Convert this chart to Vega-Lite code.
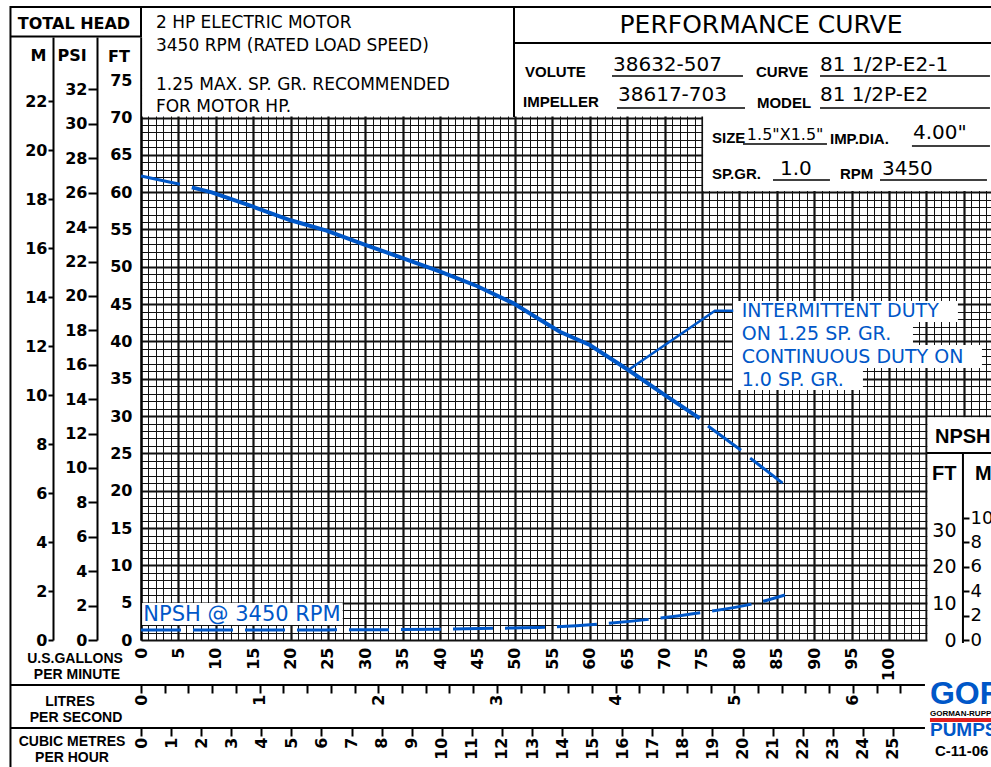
{
  "$schema": "https://vega.github.io/schema/vega-lite/v6.json",
  "width": 850,
  "height": 603,
  "autosize": {"type": "none"},
  "padding": {"left": 141, "top": 37, "right": 0, "bottom": 127},
  "background": "white",
  "config": {"view": {"stroke": null}, "axis": {"labelColor": "#000", "title": null}},
  "datasets": {
    "head": [
      {"gpm": 0, "ft": 62.16, "seg": "start"},
      {"gpm": 5.2, "ft": 61.05, "seg": "start"},
      {"gpm": 6.8, "ft": 60.65, "seg": "main"},
      {"gpm": 9.45, "ft": 59.98, "seg": "main"},
      {"gpm": 15.0, "ft": 58.05, "seg": "main"},
      {"gpm": 19.9, "ft": 56.27, "seg": "main"},
      {"gpm": 24.8, "ft": 54.84, "seg": "main"},
      {"gpm": 29.7, "ft": 53.05, "seg": "main"},
      {"gpm": 35.07, "ft": 51.14, "seg": "main"},
      {"gpm": 40.0, "ft": 49.35, "seg": "main"},
      {"gpm": 44.9, "ft": 47.43, "seg": "main"},
      {"gpm": 49.8, "ft": 45.1, "seg": "main"},
      {"gpm": 53.3, "ft": 42.95, "seg": "main"},
      {"gpm": 56.0, "ft": 41.3, "seg": "main"},
      {"gpm": 60.0, "ft": 39.52, "seg": "main"},
      {"gpm": 65.15, "ft": 36.17, "seg": "main"},
      {"gpm": 70.05, "ft": 32.82, "seg": "main"},
      {"gpm": 74.7, "ft": 29.7, "seg": "main"},
      {"gpm": 75.8, "ft": 28.67, "seg": "end"},
      {"gpm": 80.3, "ft": 25.36, "seg": "end"},
      {"gpm": 81.5, "ft": 24.34, "seg": "end"},
      {"gpm": 85.8, "ft": 20.99, "seg": "end"}
    ],
    "npsh": [
      {"gpm": 0, "npsh": 2.74},
      {"gpm": 10, "npsh": 2.74},
      {"gpm": 20, "npsh": 2.76},
      {"gpm": 30, "npsh": 2.8},
      {"gpm": 40, "npsh": 2.95},
      {"gpm": 47.6, "npsh": 3.21},
      {"gpm": 54.45, "npsh": 3.5},
      {"gpm": 61.4, "npsh": 4.38},
      {"gpm": 68.3, "npsh": 5.75},
      {"gpm": 75.2, "npsh": 7.59},
      {"gpm": 82.1, "npsh": 10.05},
      {"gpm": 86.1, "npsh": 12.33}
    ],
    "leader": [
      {"gpm": 65.15, "ft": 36.17},
      {"gpm": 76.74, "ft": 44.12},
      {"gpm": 79.18, "ft": 44.12}
    ],
    "covers": [
      {"gpm": 0.15, "gpm2": 114, "ft": 70.15, "ft2": 81},
      {"gpm": 75.15, "gpm2": 114, "ft": 60.15, "ft2": 81},
      {"gpm": 105.15, "gpm2": 114, "ft": -0.5, "ft2": 29.85},
      {"gpm": 79.14, "gpm2": 109.22, "ft": 42.6, "ft2": 45.42},
      {"gpm": 79.14, "gpm2": 103.21, "ft": 39.52, "ft2": 42.6},
      {"gpm": 79.14, "gpm2": 112.43, "ft": 36.44, "ft2": 39.52},
      {"gpm": 79.14, "gpm2": 96.52, "ft": 33.49, "ft2": 36.44},
      {"gpm": 0.15, "gpm2": 26.97, "ft": 2.01, "ft2": 4.96}
    ],
    "frame": [
      {"gpm": -17.51, "gpm2": 114, "ft": 84.81, "ft2": 84.81},
      {"gpm": -17.45, "gpm2": -17.45, "ft": 84.95, "ft2": -17.5},
      {"gpm": -17.45, "gpm2": 0, "ft": 80.86, "ft2": 80.86},
      {"gpm": 0, "gpm2": 0, "ft": 80.79, "ft2": 84.81},
      {"gpm": 49.87, "gpm2": 49.87, "ft": 70.07, "ft2": 84.81},
      {"gpm": 49.87, "gpm2": 114, "ft": 79.98, "ft2": 79.98},
      {"gpm": -17.45, "gpm2": 104.81, "ft": -6.03, "ft2": -6.03},
      {"gpm": -17.45, "gpm2": 104.81, "ft": -11.79, "ft2": -11.79},
      {"gpm": 105.08, "gpm2": 114, "ft": 25.05, "ft2": 25.05},
      {"gpm": 109.89, "gpm2": 109.89, "ft": -0.4, "ft2": 25.05}
    ],
    "underlines": [
      {"gpm": 62.97, "gpm2": 80.48, "ft": 75.56, "ft2": 75.56},
      {"gpm": 90.78, "gpm2": 113.5, "ft": 75.56, "ft2": 75.56},
      {"gpm": 63.64, "gpm2": 80.75, "ft": 71.28, "ft2": 71.28},
      {"gpm": 90.78, "gpm2": 113.5, "ft": 71.28, "ft2": 71.28},
      {"gpm": 80.48, "gpm2": 91.71, "ft": 66.45, "ft2": 66.45},
      {"gpm": 103.07, "gpm2": 113.5, "ft": 66.18, "ft2": 66.18},
      {"gpm": 84.49, "gpm2": 92.11, "ft": 61.63, "ft2": 61.63},
      {"gpm": 98.8, "gpm2": 113.1, "ft": 61.63, "ft2": 61.63}
    ],
    "thinHeader": [
      {"gpm": 2.0, "ft": 82.7, "text": "2 HP ELECTRIC MOTOR"},
      {"gpm": 2.0, "ft": 79.6, "text": "3450 RPM (RATED LOAD SPEED)"},
      {"gpm": 2.0, "ft": 74.36, "text": "1.25 MAX. SP. GR. RECOMMENDED"},
      {"gpm": 2.0, "ft": 71.41, "text": "FOR MOTOR HP."}
    ],
    "titleText": [
      {"gpm": 82.89, "ft": 82.4, "text": "PERFORMANCE CURVE"}
    ],
    "boldCenter": [
      {"gpm": -8.96, "ft": 82.53, "text": "TOTAL HEAD"},
      {"gpm": -13.7, "ft": 78.24, "text": "M"},
      {"gpm": -9.22, "ft": 78.24, "text": "PSI"},
      {"gpm": -2.94, "ft": 78.11, "text": "FT"}
    ],
    "boldLeft": [
      {"gpm": 51.34, "ft": 76.1, "text": "VOLUTE"},
      {"gpm": 82.22, "ft": 76.1, "text": "CURVE"},
      {"gpm": 51.07, "ft": 72.08, "text": "IMPELLER"},
      {"gpm": 82.35, "ft": 71.94, "text": "MODEL"},
      {"gpm": 76.34, "ft": 67.26, "text": "SIZE"},
      {"gpm": 92.11, "ft": 67.12, "text": "IMP.DIA."},
      {"gpm": 76.34, "ft": 62.43, "text": "SP.GR."},
      {"gpm": 93.45, "ft": 62.43, "text": "RPM"}
    ],
    "values20": [
      {"gpm": 63.1, "ft": 77.04, "text": "38632-507"},
      {"gpm": 90.78, "ft": 77.04, "text": "81 1/2P-E2-1"},
      {"gpm": 63.77, "ft": 73.02, "text": "38617-703"},
      {"gpm": 90.78, "ft": 73.02, "text": "81 1/2P-E2"},
      {"gpm": 103.21, "ft": 67.93, "text": "4.00\""},
      {"gpm": 85.43, "ft": 63.1, "text": "1.0"},
      {"gpm": 99.06, "ft": 63.1, "text": "3450"}
    ],
    "sizeText": [
      {"gpm": 81.0, "ft": 67.66, "text": "1.5\"X1.5\""}
    ],
    "bottomLabels": [
      {"gpm": -8.82, "ft": -2.48, "text": "U.S.GALLONS"},
      {"gpm": -8.56, "ft": -4.69, "text": "PER MINUTE"},
      {"gpm": -9.49, "ft": -8.31, "text": "LITRES"},
      {"gpm": -8.69, "ft": -10.45, "text": "PER SECOND"},
      {"gpm": -9.22, "ft": -13.6, "text": "CUBIC METRES"},
      {"gpm": -9.22, "ft": -15.81, "text": "PER HOUR"}
    ],
    "blueNotes": [
      {"gpm": 80.31, "ft": 44.08, "text": "INTERMITTENT DUTY"},
      {"gpm": 80.31, "ft": 41.0, "text": "ON 1.25 SP. GR."},
      {"gpm": 80.31, "ft": 37.92, "text": "CONTINUOUS DUTY ON"},
      {"gpm": 80.31, "ft": 34.83, "text": "1.0 SP. GR."}
    ],
    "npshLabel": [
      {"gpm": 0.31, "ft": 3.35, "text": "NPSH @ 3450 RPM"}
    ],
    "npshBox": [
      {"gpm": 106.15, "ft": 27.2, "text": "NPSH"},
      {"gpm": 105.75, "ft": 22.24, "text": "FT"},
      {"gpm": 111.5, "ft": 22.24, "text": "M"}
    ],
    "logoBig": [{"gpm": 105.48, "ft": -7.2, "text": "GOR"}],
    "logoSmall": [{"gpm": 105.48, "ft": -9.95, "text": "GORMAN-RUPP"}],
    "logoBar": [{"gpm": 105.48, "gpm2": 114.2, "ft": -10.45, "ft2": -10.99}],
    "logoPumps": [{"gpm": 105.48, "ft": -12.06, "text": "PUMPS"}],
    "code": [{"gpm": 106.15, "ft": -14.87, "text": "C-11-06"}]
  },
  "layer": [
    {
      "encoding": {
        "x": {
          "field": "gpm", "type": "quantitative",
          "scale": {"domain": [0, 113.64], "nice": false, "zero": false},
          "axis": {
            "orient": "bottom", "title": null,
            "values": [0,1,2,3,4,5,6,7,8,9,10,11,12,13,14,15,16,17,18,19,20,21,22,23,24,25,26,27,28,29,30,31,32,33,34,35,36,37,38,39,40,41,42,43,44,45,46,47,48,49,50,51,52,53,54,55,56,57,58,59,60,61,62,63,64,65,66,67,68,69,70,71,72,73,74,75,76,77,78,79,80,81,82,83,84,85,86,87,88,89,90,91,92,93,94,95,96,97,98,99,100,101,102,103,104,105,106,107,108,109,110,111,112,113],
            "grid": true, "gridColor": "#111", "gridOpacity": 1,
            "gridWidth": {"condition": {"test": "datum.value % 5 === 0", "value": 2.2}, "value": 1},
            "domain": false, "ticks": false, "tickSize": 0,
            "labelAngle": 270, "labelAlign": "right", "labelBaseline": "middle", "labelPadding": 7,
            "labelFont": "DejaVu Sans", "labelFontWeight": "bold", "labelFontSize": 16,
            "labelExpr": "datum.value % 5 === 0 && datum.value <= 100 ? datum.label : ''",
            "labelOverlap": false, "labelBound": false, "labelFlush": false
          }
        },
        "y": {
          "field": "ft", "type": "quantitative",
          "scale": {"domain": [0, 80.79], "nice": false, "zero": false},
          "axis": {
            "orient": "left", "title": null,
            "values": [0,1,2,3,4,5,6,7,8,9,10,11,12,13,14,15,16,17,18,19,20,21,22,23,24,25,26,27,28,29,30,31,32,33,34,35,36,37,38,39,40,41,42,43,44,45,46,47,48,49,50,51,52,53,54,55,56,57,58,59,60,61,62,63,64,65,66,67,68,69,70,71,72,73,74,75],
            "grid": true, "gridColor": "#111", "gridOpacity": 1,
            "gridWidth": {"condition": {"test": "datum.value % 5 === 0", "value": 2.2}, "value": 1},
            "domain": true, "domainColor": "#000", "domainWidth": 2,
            "ticks": false, "tickSize": 0, "labelPadding": 9,
            "labelFont": "DejaVu Sans", "labelFontWeight": "bold", "labelFontSize": 16,
            "labelExpr": "datum.value % 5 === 0 ? datum.label : ''",
            "labelOverlap": false, "labelBound": false, "labelFlush": false
          }
        }
      },
      "layer": [
        {
          "data": {"name": "covers"},
          "mark": {"type": "rect", "color": "white", "opacity": 1},
          "encoding": {"x2": {"field": "gpm2"}, "y2": {"field": "ft2"}}
        },
        {
          "data": {"name": "frame"},
          "mark": {"type": "rule", "color": "#000", "strokeWidth": 2},
          "encoding": {"x2": {"field": "gpm2"}, "y2": {"field": "ft2"}}
        },
        {
          "data": {"name": "underlines"},
          "mark": {"type": "rule", "color": "#000", "strokeWidth": 1.5},
          "encoding": {"x2": {"field": "gpm2"}, "y2": {"field": "ft2"}}
        },
        {
          "data": {"name": "logoBar"},
          "mark": {"type": "rect", "color": "#e02020"},
          "encoding": {"x2": {"field": "gpm2"}, "y2": {"field": "ft2"}}
        },
        {
          "data": {"name": "head"},
          "transform": [{"filter": "datum.seg === 'start'"}],
          "mark": {"type": "line", "color": "#0057c8", "strokeWidth": 3}
        },
        {
          "data": {"name": "head"},
          "transform": [{"filter": "datum.seg === 'main'"}],
          "mark": {"type": "line", "color": "#0057c8", "strokeWidth": 4}
        },
        {
          "data": {"name": "head"},
          "transform": [{"filter": "datum.seg === 'end'"}],
          "mark": {"type": "line", "color": "#0057c8", "strokeWidth": 3, "strokeDash": [41, 12]}
        },
        {
          "data": {"name": "leader"},
          "mark": {"type": "line", "color": "#0057c8", "strokeWidth": 2.5}
        },
        {
          "data": {"name": "thinHeader"},
          "mark": {"type": "text", "font": "DejaVu Sans", "fontSize": 17, "align": "left", "baseline": "middle", "color": "#000"},
          "encoding": {"text": {"field": "text"}}
        },
        {
          "data": {"name": "titleText"},
          "mark": {"type": "text", "font": "DejaVu Sans", "fontSize": 25, "align": "center", "baseline": "middle", "color": "#000"},
          "encoding": {"text": {"field": "text"}}
        },
        {
          "data": {"name": "boldCenter"},
          "mark": {"type": "text", "font": "DejaVu Sans", "fontWeight": "bold", "fontSize": 16, "align": "center", "baseline": "middle", "color": "#000"},
          "encoding": {"text": {"field": "text"}}
        },
        {
          "data": {"name": "boldLeft"},
          "mark": {"type": "text", "font": "Liberation Sans", "fontWeight": "bold", "fontSize": 15, "align": "left", "baseline": "middle", "color": "#000"},
          "encoding": {"text": {"field": "text"}}
        },
        {
          "data": {"name": "values20"},
          "mark": {"type": "text", "font": "DejaVu Sans", "fontSize": 20, "align": "left", "baseline": "middle", "color": "#000"},
          "encoding": {"text": {"field": "text"}}
        },
        {
          "data": {"name": "sizeText"},
          "mark": {"type": "text", "font": "DejaVu Sans", "fontSize": 16, "align": "left", "baseline": "middle", "color": "#000"},
          "encoding": {"text": {"field": "text"}}
        },
        {
          "data": {"name": "bottomLabels"},
          "mark": {"type": "text", "font": "Liberation Sans", "fontWeight": "bold", "fontSize": 14, "align": "center", "baseline": "middle", "color": "#000"},
          "encoding": {"text": {"field": "text"}}
        },
        {
          "data": {"name": "blueNotes"},
          "mark": {"type": "text", "font": "DejaVu Sans", "fontSize": 19, "align": "left", "baseline": "middle", "color": "#0057c8"},
          "encoding": {"text": {"field": "text"}}
        },
        {
          "data": {"name": "npshLabel"},
          "mark": {"type": "text", "font": "DejaVu Sans", "fontSize": 21, "align": "left", "baseline": "middle", "color": "#0057c8"},
          "encoding": {"text": {"field": "text"}}
        },
        {
          "data": {"name": "npshBox"},
          "mark": {"type": "text", "font": "Liberation Sans", "fontWeight": "bold", "fontSize": 20, "align": "left", "baseline": "middle", "color": "#000"},
          "encoding": {"text": {"field": "text"}}
        },
        {
          "data": {"name": "logoBig"},
          "mark": {"type": "text", "font": "Liberation Sans", "fontWeight": "bold", "fontSize": 32, "align": "left", "baseline": "middle", "color": "#0057c8"},
          "encoding": {"text": {"field": "text"}}
        },
        {
          "data": {"name": "logoSmall"},
          "mark": {"type": "text", "font": "Liberation Sans", "fontWeight": "bold", "fontSize": 8, "align": "left", "baseline": "middle", "color": "#000"},
          "encoding": {"text": {"field": "text"}}
        },
        {
          "data": {"name": "logoPumps"},
          "mark": {"type": "text", "font": "Liberation Sans", "fontWeight": "bold", "fontSize": 19, "align": "left", "baseline": "middle", "color": "#0057c8"},
          "encoding": {"text": {"field": "text"}}
        },
        {
          "data": {"name": "code"},
          "mark": {"type": "text", "font": "Liberation Sans", "fontWeight": "bold", "fontSize": 15, "align": "left", "baseline": "middle", "color": "#000"},
          "encoding": {"text": {"field": "text"}}
        }
      ]
    },
    {
      "data": {"values": [{"psi": 0}]},
      "mark": {"type": "point", "opacity": 0},
      "encoding": {
        "y": {
          "field": "psi", "type": "quantitative",
          "scale": {"domain": [0, 35.05], "nice": false, "zero": false},
          "axis": {
            "orient": "left", "offset": 44, "title": null,
            "values": [0,2,4,6,8,10,12,14,16,18,20,22,24,26,28,30,32],
            "grid": false, "domain": true, "domainColor": "#000", "domainWidth": 2,
            "ticks": true, "tickColor": "#000", "tickWidth": 2, "tickSize": 9, "labelPadding": 1,
            "labelFont": "DejaVu Sans", "labelFontWeight": "bold", "labelFontSize": 16,
            "labelOverlap": false, "labelBound": false, "labelFlush": false
          }
        }
      }
    },
    {
      "data": {"values": [{"m": 0}]},
      "mark": {"type": "point", "opacity": 0},
      "encoding": {
        "y": {
          "field": "m", "type": "quantitative",
          "scale": {"domain": [0, 24.62], "nice": false, "zero": false},
          "axis": {
            "orient": "left", "offset": 88, "title": null,
            "values": [0,2,4,6,8,10,12,14,16,18,20,22],
            "grid": false, "domain": true, "domainColor": "#000", "domainWidth": 2,
            "ticks": true, "tickColor": "#000", "tickWidth": 2, "tickSize": 5, "labelPadding": 1,
            "labelFont": "DejaVu Sans", "labelFontWeight": "bold", "labelFontSize": 16,
            "labelOverlap": false, "labelBound": false, "labelFlush": false
          }
        }
      }
    },
    {
      "data": {"name": "npsh"},
      "mark": {"type": "line", "color": "#0057c8", "strokeWidth": 3, "strokeDash": [40, 12], "interpolate": "monotone"},
      "encoding": {
        "x": {"field": "gpm", "type": "quantitative", "scale": {"domain": [0, 113.64], "nice": false, "zero": false}, "axis": null},
        "y": {
          "field": "npsh", "type": "quantitative",
          "scale": {"domain": [0, 165.2], "nice": false, "zero": false},
          "axis": {
            "orient": "left", "offset": -822, "title": null, "zindex": 1,
            "values": [0, 10, 20, 30],
            "grid": false, "domain": false, "ticks": false, "tickSize": 0, "labelPadding": 7,
            "labelFont": "DejaVu Sans", "labelFontSize": 19,
            "labelOverlap": false, "labelBound": false, "labelFlush": false
          }
        }
      }
    },
    {
      "data": {"values": [{"npshm": 0}]},
      "mark": {"type": "point", "opacity": 0},
      "encoding": {
        "y": {
          "field": "npshm", "type": "quantitative",
          "scale": {"domain": [0, 49.43], "nice": false, "zero": false},
          "axis": {
            "orient": "right", "offset": -28, "title": null, "zindex": 1,
            "values": [0, 2, 4, 6, 8, 10],
            "grid": false, "domain": false, "ticks": true, "tickColor": "#000", "tickWidth": 2, "tickSize": 6, "labelPadding": 1,
            "labelFont": "DejaVu Sans", "labelFontSize": 18,
            "labelOverlap": false, "labelBound": false, "labelFlush": false
          }
        }
      }
    },
    {
      "data": {"values": [{"lps": 0}]},
      "mark": {"type": "point", "opacity": 0},
      "encoding": {
        "x": {
          "field": "lps", "type": "quantitative",
          "scale": {"domain": [0, 7.164], "nice": false, "zero": false},
          "axis": {
            "orient": "bottom", "offset": 45, "title": null,
            "values": [0,0.2,0.4,0.6,0.8,1,1.2,1.4,1.6,1.8,2,2.2,2.4,2.6,2.8,3,3.2,3.4,3.6,3.8,4,4.2,4.4,4.6,4.8,5,5.2,5.4,5.6,5.8,6,6.2,6.4],
            "grid": false, "domain": false,
            "ticks": true, "tickColor": "#000", "tickWidth": 2, "tickSize": 8,
            "labelAngle": 270, "labelAlign": "right", "labelBaseline": "middle", "labelPadding": 1,
            "labelFont": "DejaVu Sans", "labelFontWeight": "bold", "labelFontSize": 16,
            "labelExpr": "abs(datum.value - round(datum.value)) < 0.001 ? format(datum.value, 'd') : ''",
            "labelOverlap": false, "labelBound": false, "labelFlush": false
          }
        }
      }
    },
    {
      "data": {"values": [{"cmh": 0}]},
      "mark": {"type": "point", "opacity": 0},
      "encoding": {
        "x": {
          "field": "cmh", "type": "quantitative",
          "scale": {"domain": [0, 28.26], "nice": false, "zero": false},
          "axis": {
            "orient": "bottom", "offset": 88, "title": null,
            "values": [0,1,2,3,4,5,6,7,8,9,10,11,12,13,14,15,16,17,18,19,20,21,22,23,24,25],
            "grid": false, "domain": false,
            "ticks": true, "tickColor": "#000", "tickWidth": 2, "tickSize": 8,
            "labelAngle": 270, "labelAlign": "right", "labelBaseline": "middle", "labelPadding": 1,
            "labelFont": "DejaVu Sans", "labelFontWeight": "bold", "labelFontSize": 16,
            "labelOverlap": false, "labelBound": false, "labelFlush": false
          }
        }
      }
    }
  ],
  "resolve": {
    "scale": {"x": "independent", "y": "independent"},
    "axis": {"x": "independent", "y": "independent"}
  }
}
